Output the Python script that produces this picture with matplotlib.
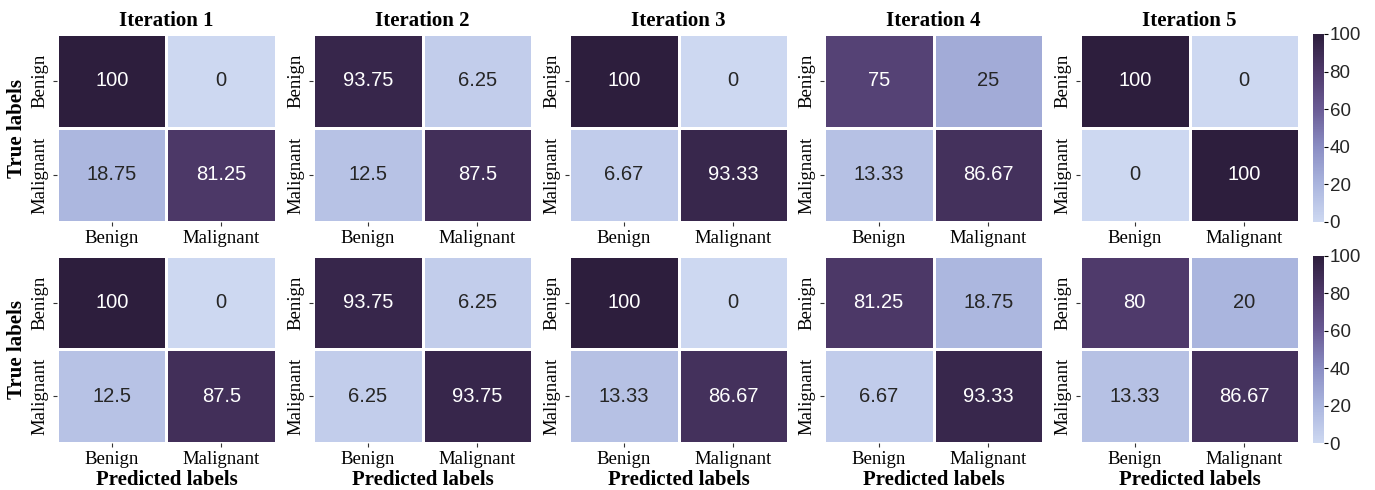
import numpy as np
import matplotlib
matplotlib.use("Agg")
import matplotlib.pyplot as plt
import seaborn as sns
from matplotlib.colors import LinearSegmentedColormap

# Confusion matrices (percent), one per iteration, flattened row-wise:
# [Benign->Benign, Benign->Malignant, Malignant->Benign, Malignant->Malignant]
class_names = ["Benign", "Malignant"]
iterations = ["Iteration 1", "Iteration 2", "Iteration 3", "Iteration 4", "Iteration 5"]

top_row = [
    [100, 0, 18.75, 81.25],
    [93.75, 6.25, 12.5, 87.5],
    [100, 0, 6.67, 93.33],
    [75, 25, 13.33, 86.67],
    [100, 0, 0, 100],
]
bottom_row = [
    [100, 0, 12.5, 87.5],
    [93.75, 6.25, 6.25, 93.75],
    [100, 0, 13.33, 86.67],
    [81.25, 18.75, 6.67, 93.33],
    [80, 20, 13.33, 86.67],
]

cmap = LinearSegmentedColormap.from_list(
    "lavender_purple",
    ["#cdd8f1", "#aab5de", "#8a8dc3", "#6a5b95", "#4f3a6b", "#2d1e3d"],
)

serif = "Liberation Serif"
sans = "Liberation Sans"

fig = plt.figure(figsize=(13.75, 4.9), dpi=100)
W, H = 1375.0, 490.0

lefts = [57, 313, 569, 824, 1080]
panel_w = 219
rows = [(34, 222, top_row), (256, 443, bottom_row)]

for r, (top, bot, data) in enumerate(rows):
    cax = fig.add_axes([1313 / W, 1 - bot / H, 11 / W, (bot - top) / H])
    for c, vals in enumerate(data):
        ax = fig.add_axes([lefts[c] / W, 1 - bot / H, panel_w / W, (bot - top) / H])
        mat = np.array(vals, dtype=float).reshape(2, 2)
        sns.heatmap(
            mat, ax=ax, cmap=cmap, vmin=0, vmax=100,
            annot=True, fmt="g", linewidths=1.0, linecolor="white",
            cbar=(c == 4), cbar_ax=cax if c == 4 else None,
            annot_kws={"fontsize": 14.5, "family": sans},
            xticklabels=class_names, yticklabels=class_names,
        )
        ax.tick_params(axis="both", length=3, width=0.8, color="#333333", pad=3)
        for lab in ax.get_xticklabels():
            lab.set_fontfamily(serif)
            lab.set_fontsize(13.5)
            lab.set_rotation(0)
        for lab in ax.get_yticklabels():
            lab.set_fontfamily(serif)
            lab.set_fontsize(13.5)
            lab.set_rotation(90)
            lab.set_va("center")
        if r == 0:
            ax.set_title(iterations[c], fontfamily=serif, fontweight="bold",
                         fontsize=15, pad=6)
        if c == 0:
            ax.set_ylabel("True labels", fontfamily=serif, fontweight="bold",
                          fontsize=15, labelpad=3)
        if r == 1:
            ax.set_xlabel("Predicted labels", fontfamily=serif, fontweight="bold",
                          fontsize=15, labelpad=1)
    cax.tick_params(labelsize=13.5, length=3, width=0.8, pad=1)
    cax.set_yticks([0, 20, 40, 60, 80, 100])
    for lab in cax.get_yticklabels():
        lab.set_fontfamily(sans)
        lab.set_color("#262626")
    for s in cax.spines.values():
        s.set_visible(False)

fig.savefig("out.png", dpi=100)
